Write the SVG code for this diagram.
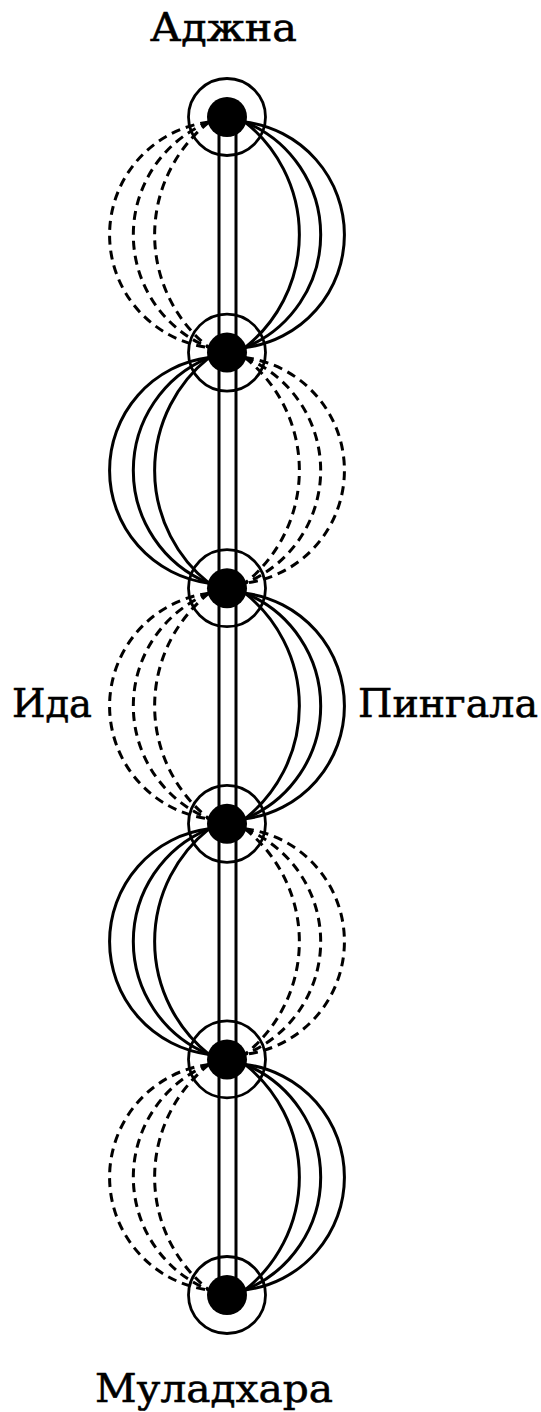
<svg xmlns="http://www.w3.org/2000/svg" width="541" height="1412" viewBox="0 0 541 1412">
  <style>
    .s{fill:none;stroke:#000;stroke-width:3}
    .d{fill:none;stroke:#000;stroke-width:3;stroke-dasharray:9 6}
    .ch{stroke:#000;stroke-width:3}
    .ring{fill:none;stroke:#000;stroke-width:2.8}
    .dot{fill:#000}
    .t{font-family:"DejaVu Serif","Liberation Serif",serif;font-size:40px;fill:#000;stroke:#000;stroke-width:0.6}
  </style>
  <rect width="541" height="1412" fill="#fff"/>
  <g id="connectors">
    <!-- central channel -->
    <line class="ch" x1="219" y1="117" x2="219" y2="1295"/>
    <line class="ch" x1="236" y1="117" x2="236" y2="1295"/>
    <!-- segment 1: solid right, dashed left -->
    <path class="s" d="M245 122 A113.7 113.7 0 0 1 245 347.6"/>
    <path class="s" d="M245 122 A121.9 121.9 0 0 1 245 347.6"/>
    <path class="s" d="M245 122 A144.2 144.2 0 0 1 245 347.6"/>
    <path class="d" d="M209 122 A113.7 113.7 0 0 0 209 347.6"/>
    <path class="d" d="M209 122 A121.9 121.9 0 0 0 209 347.6"/>
    <path class="d" d="M209 122 A144.2 144.2 0 0 0 209 347.6"/>
    <!-- segment 2: solid left, dashed right -->
    <path class="s" d="M209 357.6 A113.7 113.7 0 0 0 209 583.2"/>
    <path class="s" d="M209 357.6 A121.9 121.9 0 0 0 209 583.2"/>
    <path class="s" d="M209 357.6 A144.2 144.2 0 0 0 209 583.2"/>
    <path class="d" d="M245 357.6 A113.7 113.7 0 0 1 245 583.2"/>
    <path class="d" d="M245 357.6 A121.9 121.9 0 0 1 245 583.2"/>
    <path class="d" d="M245 357.6 A144.2 144.2 0 0 1 245 583.2"/>
    <!-- segment 3: solid right, dashed left -->
    <path class="s" d="M245 593.2 A113.7 113.7 0 0 1 245 818.8"/>
    <path class="s" d="M245 593.2 A121.9 121.9 0 0 1 245 818.8"/>
    <path class="s" d="M245 593.2 A144.2 144.2 0 0 1 245 818.8"/>
    <path class="d" d="M209 593.2 A113.7 113.7 0 0 0 209 818.8"/>
    <path class="d" d="M209 593.2 A121.9 121.9 0 0 0 209 818.8"/>
    <path class="d" d="M209 593.2 A144.2 144.2 0 0 0 209 818.8"/>
    <!-- segment 4: solid left, dashed right -->
    <path class="s" d="M209 828.8 A113.7 113.7 0 0 0 209 1054.4"/>
    <path class="s" d="M209 828.8 A121.9 121.9 0 0 0 209 1054.4"/>
    <path class="s" d="M209 828.8 A144.2 144.2 0 0 0 209 1054.4"/>
    <path class="d" d="M245 828.8 A113.7 113.7 0 0 1 245 1054.4"/>
    <path class="d" d="M245 828.8 A121.9 121.9 0 0 1 245 1054.4"/>
    <path class="d" d="M245 828.8 A144.2 144.2 0 0 1 245 1054.4"/>
    <!-- segment 5: solid right, dashed left -->
    <path class="s" d="M245 1064.4 A113.7 113.7 0 0 1 245 1290"/>
    <path class="s" d="M245 1064.4 A121.9 121.9 0 0 1 245 1290"/>
    <path class="s" d="M245 1064.4 A144.2 144.2 0 0 1 245 1290"/>
    <path class="d" d="M209 1064.4 A113.7 113.7 0 0 0 209 1290"/>
    <path class="d" d="M209 1064.4 A121.9 121.9 0 0 0 209 1290"/>
    <path class="d" d="M209 1064.4 A144.2 144.2 0 0 0 209 1290"/>
  </g>
  <g id="node-ajna">
    <circle class="ring" cx="227" cy="117" r="38.5"/>
    <circle class="dot" cx="227" cy="117" r="20"/>
  </g>
  <g id="node-2">
    <circle class="ring" cx="227" cy="352.6" r="38.5"/>
    <circle class="dot" cx="227" cy="352.6" r="20"/>
  </g>
  <g id="node-3">
    <circle class="ring" cx="227" cy="588.2" r="38.5"/>
    <circle class="dot" cx="227" cy="588.2" r="20"/>
  </g>
  <g id="node-4">
    <circle class="ring" cx="227" cy="823.8" r="38.5"/>
    <circle class="dot" cx="227" cy="823.8" r="20"/>
  </g>
  <g id="node-5">
    <circle class="ring" cx="227" cy="1059.4" r="38.5"/>
    <circle class="dot" cx="227" cy="1059.4" r="20"/>
  </g>
  <g id="node-muladhara">
    <circle class="ring" cx="227" cy="1295" r="38.5"/>
    <circle class="dot" cx="227" cy="1295" r="20"/>
  </g>
  <g id="labels">
    <text class="t" x="150" y="41" textLength="147" lengthAdjust="spacingAndGlyphs">Аджна</text>
    <text class="t" x="12" y="717" textLength="80" lengthAdjust="spacingAndGlyphs">Ида</text>
    <text class="t" x="358" y="717" textLength="180" lengthAdjust="spacingAndGlyphs">Пингала</text>
    <text class="t" x="95" y="1402" textLength="238" lengthAdjust="spacingAndGlyphs">Муладхара</text>
  </g>
</svg>
